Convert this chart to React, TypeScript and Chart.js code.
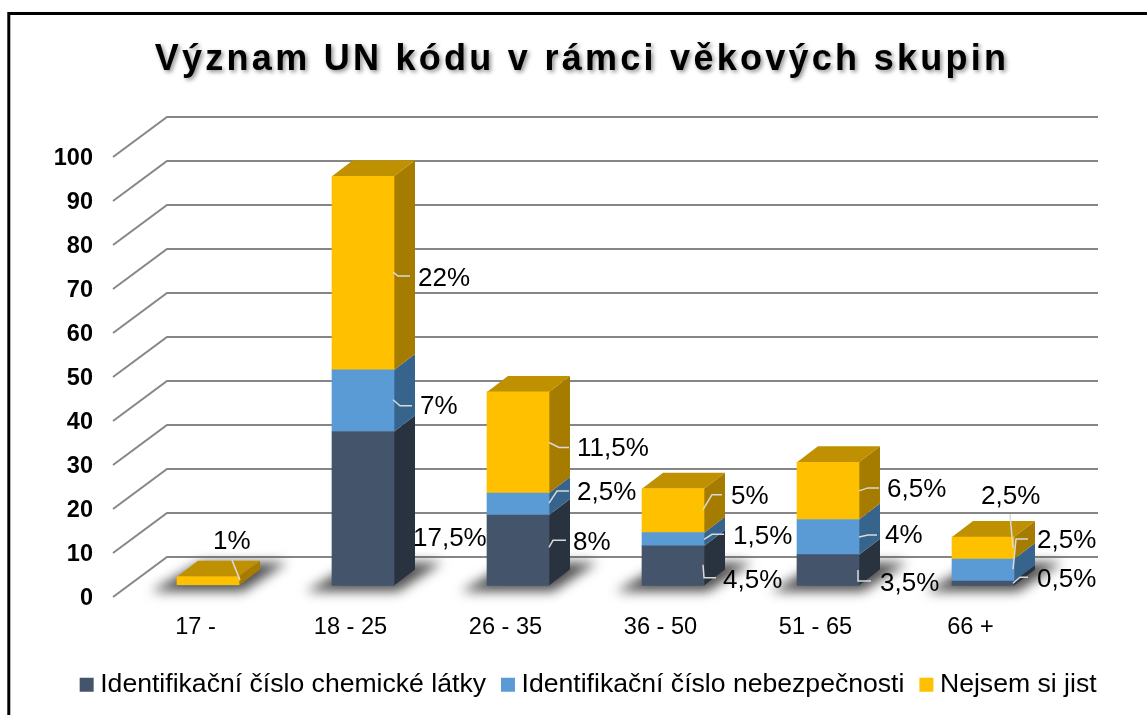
import React, { useEffect, useRef } from "react";
import { Chart, registerables } from "chart.js";

Chart.register(...registerables);

const categories = ["17 -", "18 - 25", "26 - 35", "36 - 50", "51 - 65", "66 +"];
const chemical = [0, 35, 16, 9, 7, 1];
const hazard = [0, 14, 5, 3, 8, 5];
const unsure = [2, 44, 23, 10, 13, 5];
const chemicalLabels = ["", "17,5%", "8%", "4,5%", "3,5%", "0,5%"];
const hazardLabels = ["", "7%", "2,5%", "1,5%", "4%", "2,5%"];
const unsureLabels = ["1%", "22%", "11,5%", "5%", "6,5%", "2,5%"];
const yTicks = [0, 10, 20, 30, 40, 50, 60, 70, 80, 90, 100];

const chartTitle = "Význam UN kódu v rámci věkových skupin";
const seriesNames = [
  "Identifikační číslo chemické látky",
  "Identifikační číslo nebezpečnosti",
  "Nejsem si jist",
];

// Styling
const frontColors = ["#44546A", "#5B9BD5", "#FFC000"];
const sideColors = ["#293340", "#37648C", "#A67C00"];
const topColor = "#BF9000";
const gridColor = "#868686";
const leaderColor = "#D9D9D9";

// 3D geometry (pixels)
const BAR_SHIFT = { x: 12.5, y: -11.5 };
const BAR_DEPTH = { x: 21, y: -16 };
const WALL_DEPTH = { x: 54, y: -40 };

// Label placement, relative to right edge of a bar and middle of its segment:
// text offset, then the leader line's points
type Place = { t: [number, number]; l: number[][] };
const chemicalPlaces: (Place | null)[] = [
  null,
  { t: [19, 29], l: [] },
  { t: [24, -8.5], l: [[0, -3], [4, -10], [17, -10]] },
  { t: [19, 14.5], l: [[-1, -1], [0, 12], [12, 12]] },
  { t: [21, 12.5], l: [[-1, 0], [-1, 11], [12, 11]] },
  { t: [23, -4], l: [[-1, 0], [6, -6], [14, -6]] },
];
const hazardPlaces: (Place | null)[] = [
  null,
  { t: [26, 5.5], l: [[-1, -1], [6, 5], [18, 5]] },
  { t: [28, -12], l: [[0, -1], [8, -13], [20, -13]] },
  { t: [29, -3], l: [[0, 0], [8, -5], [20, -5]] },
  { t: [26, -2], l: [[0, 0], [9, -2], [18, -2]] },
  { t: [23, -30], l: [[-1, -1], [2, -31], [14, -31]] },
];
const unsurePlaces: (Place | null)[] = [
  { t: [-26, -40], l: [[-7, -21], [1, -1]] },
  { t: [24, 5], l: [[-1, -1], [4, 3], [16, 3]] },
  { t: [28, 5], l: [[0, 0], [10, 5], [20, 5]] },
  { t: [27, -14.5], l: [[-1, -1], [8, -16], [18, -16]] },
  { t: [28, -2], l: [[0, 0], [9, -3], [20, -3]] },
  { t: [-33, -52.5], l: [[-1, 0], [-4, -34]] },
];

const FONT = "'Liberation Sans', Arial, sans-serif";

const poly = (ctx: CanvasRenderingContext2D, pts: number[][], fill: string) => {
  ctx.beginPath();
  pts.forEach((p, i) => (i ? ctx.lineTo(p[0], p[1]) : ctx.moveTo(p[0], p[1])));
  ctx.closePath();
  ctx.fillStyle = fill;
  ctx.fill();
};

const framePlugin = {
  id: "frame",
  beforeDraw(chart: any) {
    const { ctx, width, height } = chart;
    ctx.save();
    ctx.fillStyle = "#fff";
    ctx.fillRect(0, 0, width, height);
    ctx.strokeStyle = "#000";
    ctx.lineWidth = 3;
    ctx.beginPath();
    ctx.moveTo(8.8, height);
    ctx.lineTo(8.8, 13.5);
    ctx.lineTo(width, 13.5);
    ctx.stroke();
    ctx.restore();
    // native title, with letter spacing and a soft shadow
    const tb = chart.titleBlock;
    if (tb && !tb.__wrapped) {
      const draw = tb.draw;
      tb.draw = function (...args: any[]) {
        const c = chart.ctx;
        c.save();
        c.letterSpacing = "3.27px";
        c.shadowColor = "rgba(0,0,0,0.45)";
        c.shadowBlur = 4;
        c.shadowOffsetX = 2;
        c.shadowOffsetY = 2;
        c.translate(-9.5, 0);
        draw.apply(this, args);
        c.restore();
      };
      tb.__wrapped = true;
    }
    // value-axis labels sit slightly below their grid line ends
    const ys = chart.scales.y;
    if (ys && !ys.__wrapped) {
      const drawLabels = ys.drawLabels;
      ys.drawLabels = function (...args: any[]) {
        const c = chart.ctx;
        c.save();
        c.translate(0, 2);
        drawLabels.apply(this, args);
        c.restore();
      };
      ys.__wrapped = true;
    }
  },
};

const threeDPlugin = {
  id: "threeD",
  beforeDatasetsDraw(chart: any) {
    const { ctx, chartArea: area } = chart;
    const y = chart.scales.y;
    // wall + floor grid
    ctx.save();
    ctx.strokeStyle = gridColor;
    ctx.lineWidth = 2;
    const fx = area.left - 5;
    const bx = fx + WALL_DEPTH.x;
    const ex = area.right + 50;
    y.ticks.forEach((t: any) => {
      const py = y.getPixelForValue(t.value);
      ctx.beginPath();
      ctx.moveTo(fx, py);
      ctx.lineTo(bx, py + WALL_DEPTH.y);
      ctx.lineTo(ex, py + WALL_DEPTH.y);
      ctx.stroke();
    });
    ctx.restore();

    ctx.save();
    ctx.translate(BAR_SHIFT.x, BAR_SHIFT.y);
    // floor shadows
    const m0 = chart.getDatasetMeta(0);
    ctx.save();
    ctx.filter = "blur(6px)";
    m0.data.forEach((b: any) => {
      const l = b.x - b.width / 2;
      const r = b.x + b.width / 2;
      const yb = y.getPixelForValue(0);
      poly(
        ctx,
        [
          [l - 26, yb + 6],
          [r + 4, yb + 6],
          [r + 48, yb - 23],
          [l + 24, yb - 23],
        ],
        "rgba(50,50,50,0.85)"
      );
    });
    ctx.restore();
    // side and top faces
    const n = chart.data.datasets.length;
    categories.forEach((_, i) => {
      let topEl: any = null;
      for (let d = 0; d < n; d++) {
        const el = chart.getDatasetMeta(d).data[i];
        if (Math.abs(el.base - el.y) < 0.5) continue;
        const r = el.x + el.width / 2;
        poly(
          ctx,
          [
            [r, el.y],
            [r + BAR_DEPTH.x, el.y + BAR_DEPTH.y],
            [r + BAR_DEPTH.x, el.base + BAR_DEPTH.y],
            [r, el.base],
          ],
          sideColors[d]
        );
        topEl = el;
      }
      if (topEl) {
        const l = topEl.x - topEl.width / 2;
        const r = topEl.x + topEl.width / 2;
        poly(
          ctx,
          [
            [l, topEl.y],
            [l + BAR_DEPTH.x, topEl.y + BAR_DEPTH.y],
            [r + BAR_DEPTH.x, topEl.y + BAR_DEPTH.y],
            [r, topEl.y],
          ],
          topColor
        );
      }
    });
  },
  afterDatasetsDraw(chart: any) {
    const { ctx } = chart;
    // still translated
    const labelSets = [chemicalLabels, hazardLabels, unsureLabels];
    const placeSets = [chemicalPlaces, hazardPlaces, unsurePlaces];
    labelSets.forEach((labels, d) => {
      const meta = chart.getDatasetMeta(d);
      labels.forEach((txt, i) => {
        const pl = placeSets[d][i];
        if (!txt || !pl) return;
        const el = meta.data[i];
        const ax = el.x + el.width / 2;
        const ay = (el.y + el.base) / 2;
        if (pl.l.length) {
          ctx.beginPath();
          pl.l.forEach((p, k) =>
            k ? ctx.lineTo(ax + p[0], ay + p[1]) : ctx.moveTo(ax + p[0], ay + p[1])
          );
          ctx.strokeStyle = leaderColor;
          ctx.lineWidth = 1.5;
          ctx.stroke();
        }
        ctx.font = `26px ${FONT}`;
        ctx.fillStyle = "#000";
        ctx.textAlign = "left";
        ctx.textBaseline = "middle";
        ctx.fillText(txt, ax + pl.t[0], ay + pl.t[1] + 1);
      });
    });
    ctx.restore();
  },
};

const BOTTOM_PAD = 7;

export default function App() {
  const ref = useRef<HTMLCanvasElement | null>(null);
  useEffect(() => {
    if (!ref.current) return;
    const chart = new Chart(ref.current, {
      type: "bar",
      data: {
        labels: categories,
        datasets: [chemical, hazard, unsure].map((data, d) => ({
          label: seriesNames[d],
          data,
          backgroundColor: frontColors[d],
          borderColor: frontColors[d],
          borderWidth: 0,
          barThickness: 62,
          clip: false as any,
        })),
      },
      options: {
        responsive: false,
        animation: false,
        layout: { padding: { left: 36, right: 0, top: 0, bottom: BOTTOM_PAD } },
        scales: {
          x: {
            stacked: true,
            grid: { display: false, drawTicks: false },
            border: { display: false },
            ticks: {
              color: "#000",
              padding: 16,
              maxRotation: 0,
              autoSkip: false,
              font: { family: FONT, size: 23.6 },
            },
            afterFit(s: any) {
              const lg = s.chart.legend;
              s.height = 118 - (lg ? lg.height : 60) - BOTTOM_PAD;
            },
          },
          y: {
            stacked: true,
            min: 0,
            max: 100,
            afterBuildTicks(s: any) {
              s.ticks = yTicks.map((value) => ({ value }));
            },
            grid: { display: false, drawTicks: false },
            border: { display: false },
            ticks: {
              color: "#000",
              padding: 25,
              font: { family: FONT, size: 23.5, weight: "bold" },
            },
            afterFit(s: any) {
              s.width = 82;
            },
          },
          pad: {
            position: "right",
            display: true,
            grid: { display: false, drawTicks: false },
            border: { display: false },
            ticks: { display: false },
            afterFit(s: any) {
              s.width = 99;
            },
          },
        } as any,
        plugins: {
          title: {
            display: true,
            text: chartTitle,
            color: "#000",
            font: { family: FONT, size: 36, weight: "bold" },
            padding: { top: 38, bottom: 75.8 },
          },
          legend: {
            position: "bottom",
            labels: {
              color: "#000",
              boxWidth: 0.5,
              boxHeight: 0.5,
              padding: 21.75,
              font: { family: FONT, size: 26.6 },
              generateLabels(ch: any) {
                return Chart.defaults.plugins.legend.labels
                  .generateLabels(ch)
                  .map((it: any) => ({
                    ...it,
                    lineWidth: 13.5,
                    strokeStyle: it.fillStyle,
                    lineJoin: "miter",
                  }));
              },
            },
          },
          tooltip: { enabled: false },
        },
      },
      plugins: [framePlugin, threeDPlugin],
    } as any);
    return () => chart.destroy();
  }, []);
  return (
    <canvas
      ref={ref}
      width={1147}
      height={715}
      style={{ position: "absolute", left: 0, top: 0, width: 1147, height: 715, display: "block" }}
    />
  );
}
